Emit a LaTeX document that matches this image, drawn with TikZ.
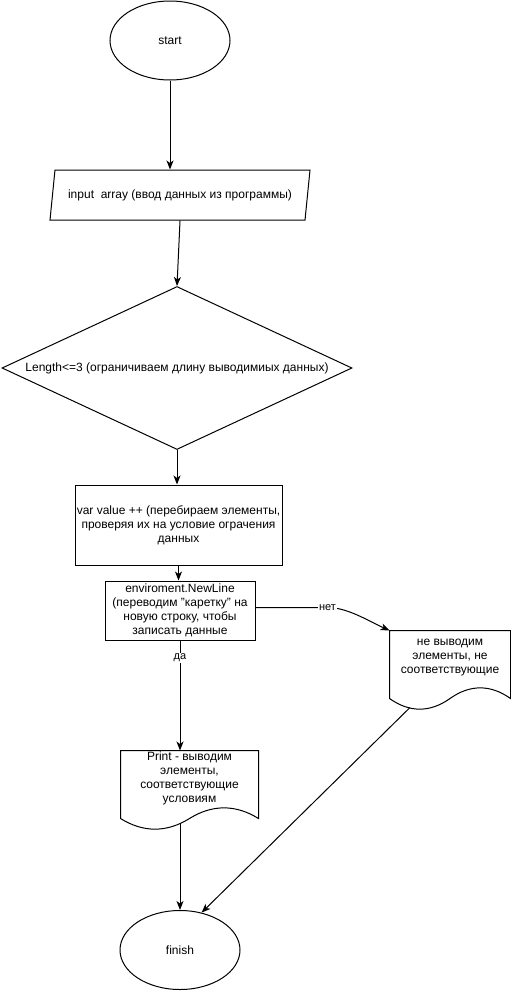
\documentclass[tikz,border=0pt]{standalone}
\usepackage{fontspec}
\setmainfont{Liberation Sans}
\usetikzlibrary{shapes.geometric, arrows.meta}

\begin{document}
\begin{tikzpicture}[x=1pt, y=-1pt, line width=1pt,
  every node/.style={font=\fontsize{12}{14}\selectfont, inner sep=0pt},
  arrow/.style={-{Stealth[length=9pt, width=7pt, inset=2.5pt]}},
  term/.style={ellipse, draw, minimum width=120pt, minimum height=79pt},
  io/.style={trapezium, draw, trapezium left angle=66, trapezium right angle=114,
    trapezium stretches body, minimum width=260pt, minimum height=50pt},
  cond/.style={diamond, draw, aspect=2.15, minimum width=350pt, minimum height=163pt},
  proc/.style={rectangle, draw, align=center},
  docbox/.style={rectangle},
  lbl/.style={fill=white, font=\fontsize{11}{12}\selectfont, inner sep=1pt}]
  \useasboundingbox (0,0) rectangle (511,991);

  \node[term] (start) at (170,40.5) {start};
  \node[io] (input) at (180,195) {input\ \ array (ввод данных из программы)};
  \node[cond] (cond) at (177,368) {Length<=3 (ограничиваем длину выводимиых данных)};
  \node[proc, minimum width=207pt, minimum height=80pt] (var) at (178.5,525)
    {var value ++ (перебираем элементы,\\проверяя их на условие ограчения\\данных};
  \node[proc, minimum width=150pt, minimum height=59pt] (env) at (180,610.5)
    {enviroment.NewLine\\(переводим "каретку" на\\новую строку, чтобы\\записать данные};

  % documents
  \node[docbox] (print) at (189.5,784.5)
    {\parbox[c][67pt][c]{137pt}{\centering Print - выводим\\элементы,\\соответствующие\\условиям\par\vspace{12pt}}};
  \draw (print.south west) -- (print.north west) -- (print.north east) -- (print.south east)
    .. controls +(-22.8,-14.2) and +(22.8,-14.2) .. (print.south)
    .. controls +(-22.8,14.2) and +(22.8,14.2) .. (print.south west);

  \node[docbox] (no) at (450,664.5)
    {\parbox[c][67pt][c]{120pt}{\centering не выводим\\элементы, не\\соответствующие\par\vspace{13pt}}};
  \draw (no.south west) -- (no.north west) -- (no.north east) -- (no.south east)
    .. controls +(-20,-14.2) and +(20,-14.2) .. (no.south)
    .. controls +(-20,14.2) and +(20,14.2) .. (no.south west);

  \node[term] (finish) at (180,950) {finish};

  \coordinate (printout) at (180,823);
  \coordinate (noout) at (410,707.5);

  % connectors
  \draw[arrow] (start.south) -- (start.south |- input.north);
  \draw[arrow] (input.south) -- (cond.north);
  \draw[arrow] (cond.south) -- (cond.south |- var.north);
  \draw[arrow] (var.south) -- (var.south |- env.north);
  \draw[arrow] (env.south) -- node[lbl, pos=0.16] {да} (env.south |- print.north);
  \draw[arrow] ([yshift=3pt]env.east) -- ++(72,0) node[lbl] {нет}
    .. controls +(20,0) and +(-22,-10) .. (no.north west);
  \draw[arrow] (printout) -- (finish.north);
  \draw[arrow] (noout) -- (finish.60);
\end{tikzpicture}
\end{document}
